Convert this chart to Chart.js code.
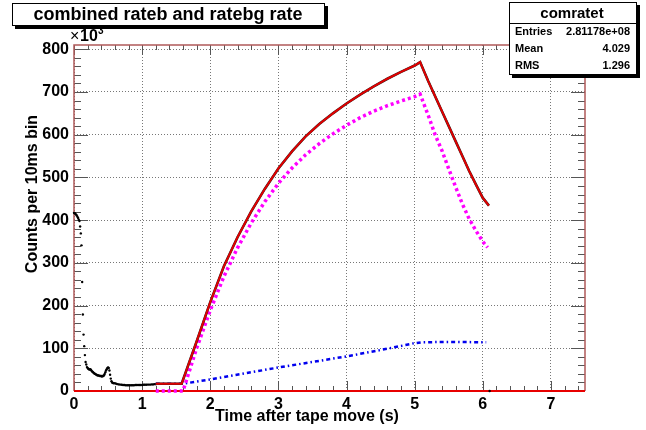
<!DOCTYPE html>
<html>
<head>
<meta charset="utf-8">
<script src="https://cdn.jsdelivr.net/npm/chart.js@4"></script>
<style>
  html, body { margin: 0; padding: 0; background: #fff; }
  #wrap { width: 646px; height: 430px; position: relative; }
</style>
</head>
<body>
<div id="wrap"><canvas id="c" width="646" height="430"></canvas></div>
<script>
// data (counts in units of 10^3, time in s)
const blackT = [0.00,0.01,0.02,0.03,0.04,0.05,0.06,0.07,0.08,0.09,0.10,0.11,0.12,0.13,0.14,0.15,0.16,0.17,0.18,0.19,
  0.20,0.21,0.22,0.23,0.24,0.25,0.26,0.27,0.28,0.29,0.30,0.31,0.32,0.33,0.34,0.35,0.36,0.37,0.38,0.39,
  0.40,0.41,0.42,0.43,0.44,0.45,0.46,0.47,0.48,0.49,0.50,0.51,0.52,0.53,0.54,0.55,0.56,0.57,0.58,
  0.60,0.62,0.64,0.66,0.68,0.70,0.72,0.74,0.76,0.78,0.80,0.82,0.84,0.86,0.88,0.90,0.92,0.94,0.96,0.98,
  1.00,1.02,1.04,1.06,1.08,1.10,1.12,1.14,1.16,1.18,1.20, 6.10];
const blackV = [417,416,415,413,411,408,405,401,398,385,369,341,255,179,132,105,84,68,62,56,
  54,52,51,50,51,49,47,45,44,42,41,40,39,38,37,37,36,36,35,35,
  35,34,35,35,37,40,44,48,51,54,55,54,48,38,29,23,20,19,18,
  18,17,16,15.5,15,14.5,14,14,13.5,13.5,13.5,13.5,13.5,13.5,13.5,14,14,14,14,14,
  14,14.5,14.5,14.5,15,15,15,15.5,15.5,16,16, 0];

// combined rate (histogram + red fit)
const combT = [1.20,1.40,1.58,1.80,2.00,2.20,2.40,2.60,2.80,3.00,3.20,3.40,3.60,3.80,4.00,4.20,4.40,4.60,4.80,5.00,5.08,
  5.20,5.30,5.40,5.50,5.60,5.70,5.80,5.90,6.00,6.09];
const combV = [17,17,17,116,208,292,360,420,473,521,561,596,625,650,673,694,713,731,747,762,770,
  725,690,655,620,585,550,515,483,452,434];

// rateb (magenta)
const rbT = [1.20,1.40,1.60,1.80,2.00,2.20,2.40,2.60,2.80,3.00,3.20,3.40,3.60,3.80,4.00,4.20,4.40,4.60,4.80,5.00,5.08,
  5.20,5.30,5.40,5.50,5.60,5.70,5.80,5.90,6.00,6.07];
const rbV = [0,0,0,100,189,268,335,393,443,486,522,553,579,602,622,640,655,668,679,689,695,
  645,600,563,520,478,438,403,375,350,336];

// ratebg (blue)
const rbgT = [1.20,1.40,1.60,2.00,2.50,3.00,3.50,4.00,4.50,5.00,5.10,5.50,6.05];
const rbgV = [17,17,17,27,41,55,68,81,96,112,114,115,114];

const xTicks = [0,1,2,3,4,5,6,7];
const yTicks = [0,100,200,300,400,500,600,700,800];

function pts(t, v) {
  return t.map(function (x, i) { return { x: x, y: v[i] }; });
}

const FONT = '"Liberation Sans", Arial, sans-serif';

// ROOT style frame, inner ticks, titles and boxes
const rootPlugin = {
  id: 'rootFrame',
  beforeDatasetsDraw(chart) {
    const ctx = chart.ctx;
    const a = chart.chartArea;
    const xs = chart.scales.x, ys = chart.scales.y;
    ctx.save();
    ctx.strokeStyle = '#555';
    ctx.lineWidth = 1;
    ctx.beginPath();
    // y ticks (left and right)
    for (let v = 0; v <= 800; v += 20) {
      const y = Math.round(ys.getPixelForValue(v)) + 0.5;
      const len = v % 100 === 0 ? 14 : 7;
      ctx.moveTo(a.left, y); ctx.lineTo(a.left + len, y);
      ctx.moveTo(a.right, y); ctx.lineTo(a.right - len, y);
    }
    // x ticks (bottom and top)
    for (let k = 0; k <= 37; k++) {
      const t = k * 0.2;
      const x = Math.round(xs.getPixelForValue(t)) + 0.5;
      const len = k % 5 === 0 ? 10 : 5;
      ctx.moveTo(x, a.bottom); ctx.lineTo(x, a.bottom - len);
      ctx.moveTo(x, a.top); ctx.lineTo(x, a.top + len);
    }
    ctx.stroke();
    // frame
    ctx.lineWidth = 1.5;
    ctx.strokeStyle = '#b05a5a';
    ctx.beginPath();
    ctx.moveTo(a.left, a.bottom); ctx.lineTo(a.left, a.top);
    ctx.lineTo(a.right, a.top); ctx.lineTo(a.right, a.bottom);
    ctx.stroke();
    ctx.lineWidth = 2;
    ctx.strokeStyle = '#e80000';
    ctx.beginPath();
    ctx.moveTo(a.left, a.bottom); ctx.lineTo(a.right, a.bottom);
    ctx.stroke();
    ctx.restore();
  },
  afterDraw(chart) {
    const ctx = chart.ctx;
    ctx.save();
    ctx.fillStyle = '#000';
    // axis titles
    ctx.font = 'bold 16px ' + FONT;
    ctx.textAlign = 'center';
    ctx.textBaseline = 'middle';
    ctx.fillText('Time after tape move (s)', 307, 417);
    ctx.save();
    ctx.translate(33, 194);
    ctx.rotate(-Math.PI / 2);
    ctx.fillText('Counts per 10ms bin', 0, 0);
    ctx.restore();
    // x10^3
    ctx.textAlign = 'left';
    ctx.font = '16px ' + FONT;
    ctx.fillText('\u00d7', 70, 37);
    ctx.font = 'bold 16px ' + FONT;
    ctx.fillText('10', 80, 37);
    ctx.font = 'bold 10px ' + FONT;
    ctx.fillText('3', 98, 31);

    // title box
    ctx.fillStyle = '#000';
    ctx.fillRect(15, 6, 313, 23);
    ctx.fillStyle = '#fff';
    ctx.fillRect(13, 4, 312, 22);
    ctx.strokeStyle = '#000';
    ctx.lineWidth = 1;
    ctx.strokeRect(12.5, 3.5, 312, 22);
    ctx.fillStyle = '#000';
    ctx.font = 'bold 18px ' + FONT;
    ctx.textAlign = 'center';
    ctx.fillText('combined rateb and ratebg rate', 168, 15);

    // stats box
    ctx.fillStyle = '#000';
    ctx.fillRect(512, 5, 128, 73);
    ctx.fillStyle = '#fff';
    ctx.fillRect(509, 2, 128, 73);
    ctx.strokeRect(509.5, 2.5, 127, 72);
    ctx.beginPath();
    ctx.moveTo(509.5, 23.5); ctx.lineTo(636.5, 23.5);
    ctx.stroke();
    ctx.fillStyle = '#000';
    ctx.font = 'bold 15px ' + FONT;
    ctx.fillText('comratet', 572, 14);
    ctx.font = 'bold 11px ' + FONT;
    const rows = [['Entries', '2.81178e+08', 32], ['Mean', '4.029', 49], ['RMS', '1.296', 66]];
    rows.forEach(function (r) {
      ctx.textAlign = 'left';
      ctx.fillText(r[0], 515, r[2]);
      ctx.textAlign = 'right';
      ctx.fillText(r[1], 630, r[2]);
    });
    ctx.restore();
  }
};

new Chart(document.getElementById('c').getContext('2d'), {
  type: 'scatter',
  data: {
    datasets: [
      {
        label: 'data',
        data: pts(blackT, blackV),
        showLine: false,
        pointRadius: 1.2,
        pointBackgroundColor: '#000',
        pointBorderWidth: 0,
        clip: false,
        order: 4
      },
      {
        label: 'rateb',
        data: pts(rbT, rbV),
        showLine: true,
        borderColor: '#ff00ff',
        borderWidth: 3.5,
        borderDash: [3, 3],
        borderCapStyle: 'butt',
        pointRadius: 0,
        clip: false,
        order: 2
      },
      {
        label: 'ratebg',
        data: pts(rbgT, rbgV),
        showLine: true,
        borderColor: '#0000ee',
        borderWidth: 2.5,
        borderDash: [4, 3, 1.5, 3],
        pointRadius: 0,
        order: 3
      },
      {
        label: 'combined hist',
        data: pts(combT, combV),
        showLine: true,
        borderColor: '#222',
        borderWidth: 2.6,
        pointRadius: 0,
        order: 1
      },
      {
        label: 'combined fit',
        data: pts(combT, combV),
        showLine: true,
        borderColor: '#e00000',
        borderWidth: 2,
        pointRadius: 0,
        order: 0
      }
    ]
  },
  options: {
    responsive: false,
    animation: false,
    events: [],
    layout: { padding: { top: 45, right: 61, left: 0, bottom: 0 } },
    plugins: { legend: { display: false }, tooltip: { enabled: false } },
    scales: {
      x: {
        type: 'linear',
        min: 0,
        max: 7.5,
        afterFit: function (s) { s.height = 39; },
        afterBuildTicks: function (s) { s.ticks = xTicks.map(function (v) { return { value: v }; }); },
        grid: { color: '#777', drawTicks: false },
        border: { display: false, dash: [1, 2] },
        ticks: {
          padding: 4,
          color: '#000',
          font: { family: FONT, size: 16, weight: 'bold' },
          maxRotation: 0,
          callback: function (v) { return String(v); }
        }
      },
      y: {
        type: 'linear',
        min: 0,
        max: 810,
        afterFit: function (s) { s.width = 74; },
        afterBuildTicks: function (s) { s.ticks = yTicks.map(function (v) { return { value: v }; }); },
        grid: { color: '#777', drawTicks: false },
        border: { display: false, dash: [1, 2] },
        ticks: {
          padding: 5,
          color: '#000',
          font: { family: FONT, size: 16, weight: 'bold' },
          callback: function (v) { return String(v); }
        }
      }
    }
  },
  plugins: [rootPlugin]
});
</script>
</body>
</html>
